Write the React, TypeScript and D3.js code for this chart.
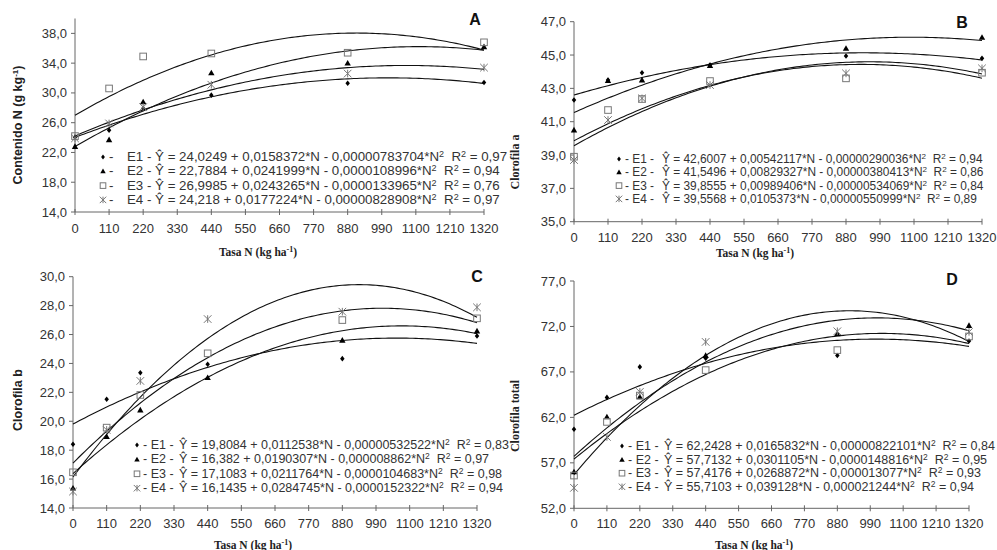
import React from "react";
import * as d3 from "d3";

// Tasa N levels (kg/ha) and axis ticks
const tasaN = [0, 110, 220, 440, 880, 1320];
const xTicks = d3.range(0, 1321, 110);
const seriesNames = ["E1", "E2", "E3", "E4"];

// A - Contenido N (g/kg)
const contenidoN = [
  [24.06, 25.0, 27.9, 29.7, 31.3, 31.4],
  [22.8, 23.7, 28.8, 32.7, 34.0, 36.2],
  [24.2, 30.6, 34.9, 35.3, 35.4, 36.8],
  [23.9, 25.9, 28.1, 31.1, 32.6, 33.4],
];
const coefContenidoN = [
  ["24,0249", "0,0158372", "0,00000783704"],
  ["22,7884", "0,0241999", "0,0000108996"],
  ["26,9985", "0,0243265", "0,0000133965"],
  ["24,218", "0,0177224", "0,00000828908"],
];
const r2ContenidoN = ["0,97", "0,94", "0,76", "0,97"];

// B - Clorofila a
const clorofilaA = [
  [42.3, 43.5, 43.94, 44.4, 44.94, 44.8],
  [40.5, 43.46, 43.5, 44.36, 45.4, 46.06],
  [38.9, 41.7, 42.36, 43.44, 43.6, 43.94],
  [38.7, 41.1, 42.4, 43.2, 43.9, 44.2],
];
const coefClorofilaA = [
  ["42,6007", "0,00542117", "0,00000290036"],
  ["41,5496", "0,00829327", "0,00000380413"],
  ["39,8555", "0,00989406", "0,00000534069"],
  ["39,5568", "0,0105373", "0,00000550999"],
];
const r2ClorofilaA = ["0,94", "0,86", "0,84", "0,89"];

// C - Clorofila b
const clorofilaB = [
  [18.41, 21.52, 23.36, 23.94, 24.33, 25.9],
  [15.37, 18.94, 20.78, 23.02, 25.6, 26.24],
  [16.47, 19.56, 21.82, 24.7, 27.0, 27.12],
  [15.14, 19.4, 22.79, 27.07, 27.58, 27.88],
];
const coefClorofilaB = [
  ["19,8084", "0,0112538", "0,00000532522"],
  ["16,382", "0,0190307", "0,000008862"],
  ["17,1083", "0,0211764", "0,0000104683"],
  ["16,1435", "0,0284745", "0,0000152322"],
];
const r2ClorofilaB = ["0,83", "0,97", "0,98", "0,94"];

// D - Clorofila total
const clorofilaTotal = [
  [60.7, 64.2, 67.55, 68.5, 68.8, 70.4],
  [56.0, 62.05, 64.25, 68.8, 71.2, 72.1],
  [55.6, 61.5, 64.4, 67.2, 69.4, 70.9],
  [54.25, 59.85, 64.8, 70.3, 71.47, 71.4],
];
const coefClorofilaTotal = [
  ["62,2428", "0,0165832", "0,00000822101"],
  ["57,7132", "0,0301105", "0,0000148816"],
  ["57,4176", "0,0268872", "0,000013077"],
  ["55,7103", "0,039128", "0,000021244"],
];
const r2ClorofilaTotal = ["0,84", "0,95", "0,93", "0,94"];

const num = (s: string) => +s.replace(",", ".");
const fmt = (v: number) => v.toFixed(1).replace(".", ",");

const sans = "'Liberation Sans', Arial, sans-serif";
const serif = "'Liberation Serif', 'Times New Roman', serif";

const panels = [
  {
    letter: "A", values: contenidoN, coef: coefContenidoN, r2: r2ContenidoN,
    yLabel: "Contenido N (g kg", ySup: "-1", yClose: ")", yFont: sans,
    x0: 75, x1: 484, yTop: 18.5, yBot: 212, dom: [14, 40], yTicks: d3.range(14, 39, 4),
    tickDy: 21, letterX: 475, letterY: 25, yLabelX: 22, yLabelY: 125, xTitleX: 258, xTitleY: 256,
    legendStyle: 1, legX: 103, legTextX: 127, legY: 161, legDy: 14.3, legSize: 13.3,
  },
  {
    letter: "B", values: clorofilaA, coef: coefClorofilaA, r2: r2ClorofilaA,
    yLabel: "Clorofila a", ySup: "", yClose: "", yFont: serif,
    x0: 574, x1: 982, yTop: 21.7, yBot: 221.7, dom: [35, 47], yTicks: d3.range(35, 47.1, 2),
    tickDy: 20, letterX: 962, letterY: 28, yLabelX: 519, yLabelY: 162, xTitleX: 755, xTitleY: 257,
    legendStyle: 2, legX: 619, legTextX: 662, legY: 163, legDy: 13.3, legSize: 11.9,
  },
  {
    letter: "C", values: clorofilaB, coef: coefClorofilaB, r2: r2ClorofilaB,
    yLabel: "Clorofila b", ySup: "", yClose: "", yFont: sans,
    x0: 73, x1: 477, yTop: 276.7, yBot: 508, dom: [14, 30], yTicks: d3.range(14, 30.1, 2),
    tickDy: 20, letterX: 477, letterY: 282, yLabelX: 22, yLabelY: 400, xTitleX: 253, xTitleY: 549,
    legendStyle: 2, legX: 137, legTextX: 179, legY: 449, legDy: 14.4, legSize: 12.5,
  },
  {
    letter: "D", values: clorofilaTotal, coef: coefClorofilaTotal, r2: r2ClorofilaTotal,
    yLabel: "Clorofila total", ySup: "", yClose: "", yFont: serif,
    x0: 574, x1: 969, yTop: 281, yBot: 508.3, dom: [52, 77], yTicks: d3.range(52, 77.1, 5),
    tickDy: 20, letterX: 952, letterY: 285, yLabelX: 519, yLabelY: 416, xTitleX: 754, xTitleY: 549,
    legendStyle: 2, legX: 622, legTextX: 664, legY: 450, legDy: 13.6, legSize: 12.5,
  },
];

function Marker({ kind, x, y, s = 1 }: { kind: number; x: number; y: number; s?: number }) {
  if (kind === 0) {
    const r = 2.8 * s;
    return <path d={`M${x},${y - r}L${x + r * 0.8},${y}L${x},${y + r}L${x - r * 0.8},${y}Z`} fill="#000" />;
  }
  if (kind === 1) {
    const r = 3.2 * s;
    return <path d={`M${x},${y - r}L${x + r},${y + r * 0.75}L${x - r},${y + r * 0.75}Z`} fill="#000" />;
  }
  if (kind === 2) {
    const r = 3.3 * s;
    return <rect x={x - r} y={y - r} width={2 * r} height={2 * r} fill="none" stroke="#777" strokeWidth={1} />;
  }
  const r = 3.8 * s;
  return (
    <path
      d={`M${x - r},${y - r}L${x + r},${y + r}M${x - r},${y + r}L${x + r},${y - r}M${x},${y - r}L${x},${y + r}`}
      stroke="#777" strokeWidth={1} fill="none"
    />
  );
}

function Panel({ p }: { p: (typeof panels)[number] }) {
  const x = d3.scaleLinear().domain([0, 1320]).range([p.x0, p.x1]);
  const y = d3.scaleLinear().domain(p.dom).range([p.yBot, p.yTop]);
  const samples = d3.range(0, 1321, 10);
  const axisColor = "#666";
  const textColor = "#333";
  const supSize = p.legSize * 0.68;

  return (
    <g>
      {/* axes */}
      <line x1={p.x0} x2={p.x0} y1={p.yTop} y2={p.yBot} stroke={axisColor} />
      <line x1={p.x0} x2={p.x1} y1={p.yBot} y2={p.yBot} stroke={axisColor} />
      {p.yTicks.map((t) => (
        <g key={"y" + t}>
          <line x1={p.x0 - 4} x2={p.x0} y1={y(t)} y2={y(t)} stroke={axisColor} />
          <text x={p.x0 - 8} y={y(t) + 4.5} textAnchor="end" fontFamily={sans} fontSize={13} fill={textColor}>
            {fmt(t)}
          </text>
        </g>
      ))}
      {xTicks.map((t) => (
        <g key={"x" + t}>
          <line x1={x(t)} x2={x(t)} y1={p.yBot - 3} y2={p.yBot + 3} stroke={axisColor} />
          <text x={x(t)} y={p.yBot + p.tickDy} textAnchor="middle" fontFamily={sans} fontSize={13} fill={textColor}>
            {t}
          </text>
        </g>
      ))}
      {/* fitted curves from the legend equations */}
      {p.coef.map((c, i) => {
        const [a, b, q] = c.map(num);
        const curve = d3.line<number>().x((n) => x(n)).y((n) => y(a + b * n - q * n * n));
        return <path key={"c" + i} d={curve(samples) || ""} fill="none" stroke="#111" strokeWidth={1.1} />;
      })}
      {/* observed points */}
      {p.values.map((vals, i) =>
        vals.map((v, k) => <Marker key={`m${i}-${k}`} kind={i} x={x(tasaN[k])} y={y(v)} />)
      )}
      {/* legend */}
      {seriesNames.map((name, i) => {
        const ly = p.legY + i * p.legDy;
        const [a, b, q] = p.coef[i];
        const head = p.legendStyle === 1 ? `${name} - Ŷ = ` : `Ŷ = `;
        return (
          <g key={"l" + i} fill={textColor} fontFamily={sans} fontSize={p.legSize}>
            <Marker kind={i} x={p.legX} y={ly - 4} s={0.85} />
            <text x={p.legX + 6} y={ly}>{p.legendStyle === 1 ? "-" : `- ${name} -`}</text>
            <text x={p.legTextX} y={ly} style={{ whiteSpace: "pre" }}>
              {`${head}${a} + ${b}*N - ${q}*N`}
              <tspan dy={-4} fontSize={supSize}>2</tspan>
              <tspan dy={4}>{"  R"}</tspan>
              <tspan dy={-4} fontSize={supSize}>2</tspan>
              <tspan dy={4}>{` = ${p.r2[i]}`}</tspan>
            </text>
          </g>
        );
      })}
      {/* letter */}
      <text x={p.letterX} y={p.letterY} textAnchor="middle" fontFamily={sans} fontWeight="bold" fontSize={16} fill="#111">
        {p.letter}
      </text>
      {/* y title */}
      <text
        transform={`translate(${p.yLabelX},${p.yLabelY}) rotate(-90)`}
        textAnchor="middle" fontFamily={p.yFont} fontWeight="bold" fontSize={p.yFont === sans ? 12.5 : 12} fill="#222"
      >
        {p.yLabel}
        {p.ySup && <tspan dy={-4} fontSize={8}>{p.ySup}</tspan>}
        {p.ySup && <tspan dy={4}>{p.yClose}</tspan>}
      </text>
      {/* x title */}
      <text x={p.xTitleX} y={p.xTitleY} textAnchor="middle" fontFamily={serif} fontWeight="bold" fontSize={11.5} fill="#222">
        Tasa N (kg ha
        <tspan dy={-4} fontSize={8}>-1</tspan>
        <tspan dy={4}>)</tspan>
      </text>
    </g>
  );
}

export default function App() {
  return (
    <svg width={997} height={550} style={{ position: "absolute", left: 0, top: 0, background: "#fff" }}>
      <rect width={997} height={550} fill="#fff" />
      {panels.map((p) => (
        <Panel key={p.letter} p={p} />
      ))}
    </svg>
  );
}
